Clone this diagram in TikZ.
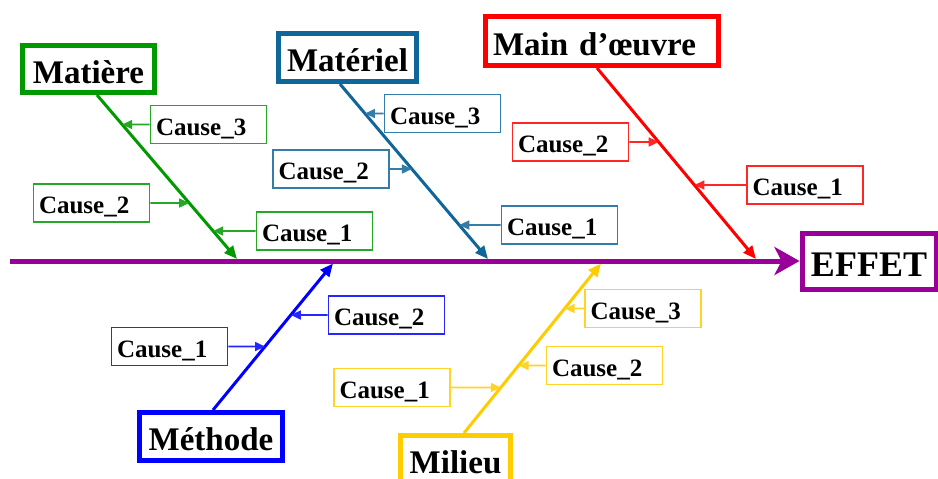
\documentclass[tikz,border=0pt]{standalone}
\usepackage{fontspec}
\setmainfont{Liberation Serif}
\usetikzlibrary{arrows.meta}

\definecolor{cSpine}{RGB}{153,0,153}
\definecolor{cMat}{RGB}{0,153,0}
\definecolor{cMatl}{RGB}{16,102,153}
\definecolor{cMain}{RGB}{255,0,0}
\definecolor{cMeth}{RGB}{0,0,255}
\definecolor{cMil}{RGB}{255,204,0}

\tikzset{
  catbox/.style={draw=#1, line width=5pt, fill=white, text=black, inner sep=0pt,
    text height=28pt, text depth=0pt,
    font=\fontsize{33}{33}\selectfont\bfseries},
  causebox/.style={draw=#1!85!white, line width=1.6pt, fill=white, text=black,
    minimum width=116pt, minimum height=38pt, inner xsep=5pt, inner ysep=0pt,
    text height=21pt, text depth=0pt,
    text width=105pt, align=left, font=\fontsize{25}{25}\selectfont\bfseries},
  bone/.style={draw=#1, line width=3pt, -{Triangle[length=13pt,width=11pt]}},
  twig/.style={draw=#1!85!white, line width=1.6pt, -{Triangle[length=10pt,width=9pt]}},
}

\begin{document}
\begin{tikzpicture}[x=1pt,y=-1pt]
\clip (0,0) rectangle (938,479);
\fill[white] (0,0) rectangle (938,479);

% effect and spine
\node[catbox=cSpine, font=\fontsize{36}{36}\selectfont\bfseries, text height=30pt,
      minimum width=134pt, minimum height=56pt] (eff) at (869,261) {EFFET};
\coordinate (spL) at (10,261);
\draw[cSpine, line width=5pt, -{Stealth[length=25pt,width=28pt,inset=7pt]}] (spL) -- (eff);

% category boxes
\node[catbox=cMat, minimum width=132pt, minimum height=47pt] (mat) at (88.5,69) {Matière};
\node[catbox=cMatl, minimum width=138pt, minimum height=48pt] (matl) at (347.5,57.5) {Matériel};
\node[catbox=cMain, minimum width=233pt, minimum height=49pt, text width=218pt,
      align=left, inner xsep=7.5pt] (main) at (602,41) {Main d’œuvre};
\node[catbox=cMeth, minimum width=143pt, minimum height=48pt] (meth) at (211,436.5) {Méthode};
\node[catbox=cMil, minimum width=110pt, minimum height=48pt] (mil) at (455.5,459.5) {Milieu};

% bone ends
\coordinate (matS)  at ([xshift=8.5pt]mat.south);
\coordinate (matT)  at (237,259);
\coordinate (matlS) at ([xshift=-7.5pt]matl.south);
\coordinate (matlT) at (488,259);
\coordinate (mainS) at ([xshift=-5pt]main.south);
\coordinate (mainT) at (756,259);
\coordinate (methS) at ([xshift=2pt]meth.north);
\coordinate (methT) at (333,263.5);
\coordinate (milS)  at ([xshift=8.5pt]mil.north);
\coordinate (milT)  at (601,263.5);

\draw[bone=cMat]  (matS) -- (matT);
\draw[bone=cMatl] (matlS) -- (matlT);
\draw[bone=cMain] (mainS) -- (mainT);
\draw[bone=cMeth] (methS) -- (methT);
\draw[bone=cMil]  (milS) -- (milT);

% causes: Matière
\node[causebox=cMat] (mc3) at (208.5,124.5) {Cause\_3};
\node[causebox=cMat] (mc2) at (91.5,203) {Cause\_2};
\node[causebox=cMat] (mc1) at (314.5,231) {Cause\_1};
% causes: Matériel
\node[causebox=cMatl] (tc3) at (442.5,113.5) {Cause\_3};
\node[causebox=cMatl] (tc2) at (331,169) {Cause\_2};
\node[causebox=cMatl] (tc1) at (559.5,225) {Cause\_1};
% causes: Main d'œuvre
\node[causebox=cMain] (rc2) at (570.5,142) {Cause\_2};
\node[causebox=cMain] (rc1) at (805,185) {Cause\_1};
% causes: Méthode
\node[causebox=cMeth] (bc2) at (386.5,315) {Cause\_2};
\node[causebox=cMeth] (bc1) at (169.5,346.5) {Cause\_1};
% causes: Milieu
\node[causebox=cMil] (yc3) at (643,308.5) {Cause\_3};
\node[causebox=cMil] (yc2) at (604.5,365.5) {Cause\_2};
\node[causebox=cMil] (yc1) at (392,387.5) {Cause\_1};

% points where each cause meets its bone
\coordinate (mc3t) at (intersection of matS--matT and mc3.west--mc3.east);
\coordinate (mc2t) at (intersection of matS--matT and mc2.west--mc2.east);
\coordinate (mc1t) at (intersection of matS--matT and mc1.west--mc1.east);
\coordinate (tc3t) at (intersection of matlS--matlT and tc3.west--tc3.east);
\coordinate (tc2t) at (intersection of matlS--matlT and tc2.west--tc2.east);
\coordinate (tc1t) at (intersection of matlS--matlT and tc1.west--tc1.east);
\coordinate (rc2t) at (intersection of mainS--mainT and rc2.west--rc2.east);
\coordinate (rc1t) at (intersection of mainS--mainT and rc1.west--rc1.east);
\coordinate (bc2t) at (intersection of methS--methT and bc2.west--bc2.east);
\coordinate (bc1t) at (intersection of methS--methT and bc1.west--bc1.east);
\coordinate (yc3t) at (intersection of milS--milT and yc3.west--yc3.east);
\coordinate (yc2t) at (intersection of milS--milT and yc2.west--yc2.east);
\coordinate (yc1t) at (intersection of milS--milT and yc1.west--yc1.east);

\draw[twig=cMat]  (mc3) -- (mc3t);
\draw[twig=cMat]  (mc2) -- (mc2t);
\draw[twig=cMat]  (mc1) -- (mc1t);
\draw[twig=cMatl] (tc3) -- (tc3t);
\draw[twig=cMatl] (tc2) -- (tc2t);
\draw[twig=cMatl] (tc1) -- (tc1t);
\draw[twig=cMain] (rc2) -- (rc2t);
\draw[twig=cMain] (rc1) -- (rc1t);
\draw[twig=cMeth] (bc2) -- (bc2t);
\draw[twig=cMeth] (bc1) -- (bc1t);
\draw[twig=cMil]  (yc3) -- (yc3t);
\draw[twig=cMil]  (yc2) -- (yc2t);
\draw[twig=cMil]  (yc1) -- (yc1t);
\end{tikzpicture}
\end{document}
